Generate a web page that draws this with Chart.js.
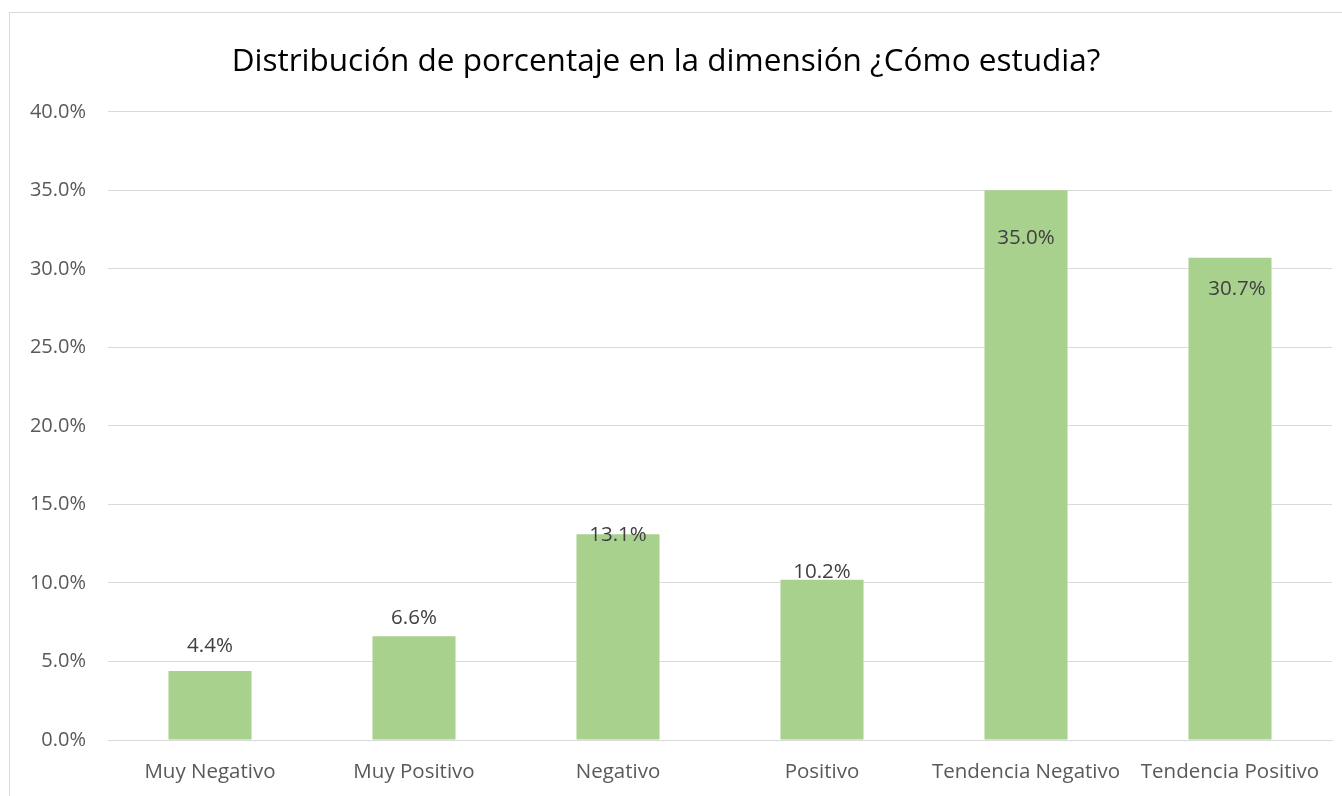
<!DOCTYPE html>
<html>
<head>
<meta charset="utf-8">
<script src="https://cdn.jsdelivr.net/npm/chart.js@4/dist/chart.umd.min.js"></script>
<style>
html,body{margin:0;padding:0;background:#fff;}
#wrap{width:1342px;height:796px;position:relative;}
</style>
</head>
<body>
<div id="wrap"><canvas id="c" width="1342" height="796"></canvas></div>
<script>
const categories = ["Muy Negativo", "Muy Positivo", "Negativo", "Positivo", "Tendencia Negativo", "Tendencia Positivo"];
const percentValues = [4.4, 6.6, 13.1, 10.2, 35.0, 30.7];
const yTicks = [0, 5, 10, 15, 20, 25, 30, 35, 40];
const chartTitle = "Distribución de porcentaje en la dimensión ¿Cómo estudia?";

// label placement relative to bar top (pixels, positive = downwards), mimics Excel best-fit
const labelShift = [-25, -18, 1, -8, 48, 31];
const labelDx = [0, 0, 0, 0, 0, 7];

const FONT = "'Open Sans', 'Noto Sans', sans-serif";

const borderPlugin = {
  id: 'borderPlugin',
  beforeDraw(chart) {
    const ctx = chart.ctx;
    ctx.save();
    ctx.fillStyle = '#fff';
    ctx.fillRect(0, 0, chart.width, chart.height);
    ctx.strokeStyle = '#d9d9d9';
    ctx.lineWidth = 1;
    ctx.strokeRect(9.5, 12.5, 1400, 1000);
    ctx.restore();
  }
};

const labelPlugin = {
  id: 'labelPlugin',
  afterDatasetsDraw(chart) {
    const ctx = chart.ctx;
    const meta = chart.getDatasetMeta(0);
    ctx.save();
    ctx.font = "20.5px " + FONT;
    ctx.fillStyle = '#404040';
    ctx.textAlign = 'center';
    ctx.textBaseline = 'middle';
    meta.data.forEach((bar, i) => {
      const v = chart.data.datasets[0].data[i];
      ctx.fillText(v.toFixed(1) + '%', bar.x + labelDx[i], bar.y + labelShift[i]);
    });
    ctx.restore();
  }
};

new Chart(document.getElementById('c'), {
  type: 'bar',
  data: {
    labels: categories,
    datasets: [{
      data: percentValues,
      backgroundColor: '#A9D18E',
      borderWidth: 0,
      categoryPercentage: 0.407,
      barPercentage: 1.0
    }]
  },
  options: {
    responsive: false,
    animation: false,
    devicePixelRatio: 1,
    layout: { padding: { left: 0, right: 10, top: 0, bottom: 0 } },
    plugins: {
      legend: { display: false },
      tooltip: { enabled: false },
      title: {
        display: true,
        text: chartTitle,
        color: '#000',
        font: { family: FONT, size: 31.5, weight: 'normal' },
        padding: { top: 43, bottom: 31 }
      }
    },
    scales: {
      x: {
        grid: { display: false, drawTicks: false },
        border: { display: true, color: '#d9d9d9', width: 1 },
        ticks: { color: '#595959', font: { family: FONT, size: 20.5 }, padding: 20, maxRotation: 0, autoSkip: false },
        afterFit(s) { s.height = 56; }
      },
      y: {
        min: 0, max: 40,
        afterBuildTicks(s) { s.ticks = yTicks.map(v => ({ value: v })); },
        grid: { color: '#d9d9d9', lineWidth: 1, drawTicks: false },
        border: { display: false },
        ticks: { color: '#595959', font: { family: FONT, size: 20 }, padding: 22,
          callback: v => v.toFixed(1) + '%' },
        afterFit(s) { s.width = 108; }
      }
    }
  },
  plugins: [borderPlugin, labelPlugin]
});
</script>
</body>
</html>
